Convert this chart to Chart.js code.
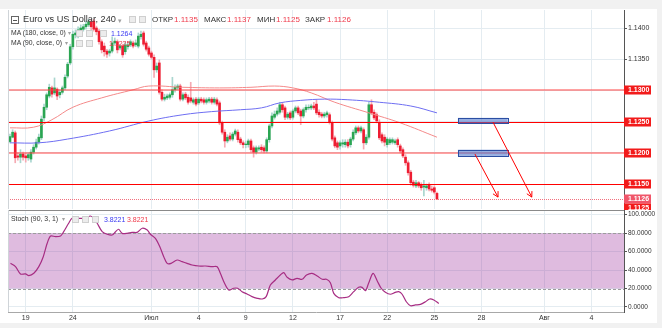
<!DOCTYPE html>
<html>
<head>
<meta charset="utf-8">
<script src="https://cdn.jsdelivr.net/npm/chart.js@4.4.1/dist/chart.umd.min.js"></script>
<style>
html, body { margin: 0; padding: 0; background: #f1f1f1; }
#wrap { position: relative; width: 662px; height: 328px; overflow: hidden; }
#panel { position: absolute; left: 0; top: 9px; width: 657px; height: 314px; background: #fff; }
canvas { position: absolute; left: 0; }
#main { top: 0; }
#stoch { top: 209px; }
.t { position: absolute; white-space: nowrap; line-height: 1; font-family: "Liberation Sans", Arial, sans-serif; color: #333; }
.ic { position: absolute; width: 7px; height: 7px; background: #ececec; border: 1px solid #cfcfcf; box-sizing: border-box; }
.dd { color: #a0a0a0; }
.up { color: #ef3a4b; }
.bl { color: #3a3af2; }
</style>
</head>
<body>
<div id="wrap">
  <div id="panel"></div>
  <canvas id="main" width="662" height="210"></canvas>
  <canvas id="stoch" width="662" height="119"></canvas>

  <div class="t" style="left:11px;top:16px;width:8px;height:8px;border:1px solid #666;box-sizing:border-box;"></div>
  <div class="t" style="left:13px;top:19.5px;width:4px;height:1px;background:#555;"></div>
  <div class="t" style="left:23px;top:15px;font-size:9.2px;">Euro vs US Dollar, 240</div>
  <div class="t dd" style="left:118px;top:17px;font-size:7px;">▾</div>
  <div class="ic" style="left:129px;top:16px;"></div>
  <div class="ic" style="left:139px;top:16px;"></div>
  <div class="t" style="left:152px;top:16px;font-size:8px;">ОТКР</div>
  <div class="t up" style="left:174px;top:16px;font-size:8px;">1.1135</div>
  <div class="t" style="left:204px;top:16px;font-size:8px;">МАКС</div>
  <div class="t up" style="left:227px;top:16px;font-size:8px;">1.1137</div>
  <div class="t" style="left:257px;top:16px;font-size:8px;">МИН</div>
  <div class="t up" style="left:276px;top:16px;font-size:8px;">1.1125</div>
  <div class="t" style="left:305px;top:16px;font-size:8px;">ЗАКР</div>
  <div class="t up" style="left:327px;top:16px;font-size:8px;">1.1126</div>

  <div class="t" style="left:11px;top:29.5px;font-size:6.8px;">MA (180, close, 0)</div>
  <div class="t dd" style="left:68px;top:30px;font-size:6px;">▾</div>
  <div class="ic" style="left:76px;top:29.5px;"></div>
  <div class="ic" style="left:86px;top:29.5px;"></div>
  <div class="ic" style="left:100px;top:29.5px;"></div>
  <div class="t bl" style="left:111px;top:29.5px;font-size:7px;">1.1264</div>

  <div class="t" style="left:11px;top:39.5px;font-size:6.8px;">MA (90, close, 0)</div>
  <div class="t dd" style="left:65px;top:40px;font-size:6px;">▾</div>
  <div class="ic" style="left:76px;top:39.5px;"></div>
  <div class="ic" style="left:86px;top:39.5px;"></div>
  <div class="t up" style="left:109px;top:39.5px;font-size:7px;">1.1225</div>

  <div class="t" style="left:11px;top:215.5px;font-size:6.9px;">Stoch (90, 3, 1)</div>
  <div class="t dd" style="left:62px;top:216px;font-size:6px;">▾</div>
  <div class="ic" style="left:72px;top:215.5px;"></div>
  <div class="ic" style="left:82px;top:215.5px;"></div>
  <div class="ic" style="left:92px;top:215.5px;"></div>
  <div class="t bl" style="left:104px;top:215.5px;font-size:7px;">3.8221</div>
  <div class="t up" style="left:127px;top:215.5px;font-size:7px;">3.8221</div>
</div>

<script>
// 4h bars, 18 Jun - 25 Jul
const opens = [
  1.1218, 1.1225, 1.1232, 1.1195, 1.1193, 1.1198, 1.1195, 1.1192, 1.1190, 1.1201,
  1.1209, 1.1217, 1.1224, 1.1256, 1.1273, 1.1291, 1.1304, 1.1296, 1.1302, 1.1293,
  1.1297, 1.1304, 1.1323, 1.1344, 1.1370, 1.1389, 1.1387, 1.1395, 1.1398, 1.1402,
  1.1405, 1.1410, 1.1411, 1.1400, 1.1395, 1.1378, 1.1371, 1.1363, 1.1360, 1.1363,
  1.1376, 1.1378, 1.1368, 1.1371, 1.1362, 1.1370, 1.1373, 1.1376, 1.1373, 1.1371,
  1.1386, 1.1392, 1.1376, 1.1368, 1.1360, 1.1353, 1.1333, 1.1344, 1.1297, 1.1286,
  1.1288, 1.1289, 1.1293, 1.1301, 1.1304, 1.1307, 1.1286, 1.1294, 1.1289, 1.1288,
  1.1281, 1.1286, 1.1280, 1.1286, 1.1285, 1.1281, 1.1283, 1.1286, 1.1281, 1.1285,
  1.1280, 1.1248, 1.1233, 1.1219, 1.1227, 1.1222, 1.1230, 1.1233, 1.1222, 1.1216,
  1.1213, 1.1213, 1.1219, 1.1208, 1.1201, 1.1206, 1.1209, 1.1208, 1.1203, 1.1221,
  1.1243, 1.1257, 1.1262, 1.1265, 1.1277, 1.1272, 1.1257, 1.1264, 1.1257, 1.1267,
  1.1272, 1.1267, 1.1259, 1.1269, 1.1272, 1.1272, 1.1275, 1.1278, 1.1265, 1.1262,
  1.1259, 1.1261, 1.1261, 1.1248, 1.1224, 1.1216, 1.1211, 1.1214, 1.1213, 1.1217,
  1.1213, 1.1222, 1.1232, 1.1240, 1.1235, 1.1237, 1.1216, 1.1225, 1.1277, 1.1265,
  1.1261, 1.1249, 1.1229, 1.1225, 1.1213, 1.1216, 1.1217, 1.1216, 1.1221, 1.1211,
  1.1205, 1.1193, 1.1184, 1.1169, 1.1153, 1.1147, 1.1152, 1.1148, 1.1145, 1.1144,
  1.1148, 1.1142, 1.1144, 1.1135
];
const highs = [
  1.1230, 1.1237, 1.1235, 1.1200, 1.1205, 1.1201, 1.1200, 1.1200, 1.1205, 1.1213,
  1.1222, 1.1230, 1.1259, 1.1278, 1.1296, 1.1310, 1.1307, 1.1320, 1.1304, 1.1301,
  1.1307, 1.1325, 1.1345, 1.1374, 1.1395, 1.1397, 1.1402, 1.1405, 1.1406, 1.1411,
  1.1414, 1.1414, 1.1414, 1.1403, 1.1398, 1.1381, 1.1376, 1.1366, 1.1366, 1.1386,
  1.1384, 1.1381, 1.1374, 1.1374, 1.1378, 1.1378, 1.1381, 1.1379, 1.1381, 1.1392,
  1.1395, 1.1395, 1.1379, 1.1371, 1.1363, 1.1357, 1.1344, 1.1349, 1.1301, 1.1294,
  1.1294, 1.1296, 1.1321, 1.1309, 1.1310, 1.1310, 1.1296, 1.1297, 1.1293, 1.1313,
  1.1288, 1.1289, 1.1289, 1.1289, 1.1288, 1.1288, 1.1289, 1.1289, 1.1289, 1.1288,
  1.1283, 1.1251, 1.1237, 1.1229, 1.1232, 1.1233, 1.1238, 1.1237, 1.1225, 1.1219,
  1.1219, 1.1222, 1.1222, 1.1211, 1.1211, 1.1211, 1.1213, 1.1211, 1.1224, 1.1246,
  1.1264, 1.1267, 1.1272, 1.1281, 1.1280, 1.1275, 1.1265, 1.1267, 1.1270, 1.1275,
  1.1275, 1.1270, 1.1272, 1.1277, 1.1277, 1.1278, 1.1281, 1.1285, 1.1269, 1.1265,
  1.1265, 1.1267, 1.1264, 1.1251, 1.1227, 1.1219, 1.1219, 1.1221, 1.1221, 1.1221,
  1.1225, 1.1237, 1.1243, 1.1243, 1.1243, 1.1240, 1.1229, 1.1281, 1.1285, 1.1269,
  1.1264, 1.1253, 1.1232, 1.1229, 1.1225, 1.1224, 1.1224, 1.1222, 1.1224, 1.1214,
  1.1208, 1.1197, 1.1187, 1.1172, 1.1156, 1.1156, 1.1154, 1.1152, 1.1156, 1.1150,
  1.1152, 1.1147, 1.1147, 1.1137
];
const lows = [
  1.1216, 1.1224, 1.1184, 1.1188, 1.1184, 1.1188, 1.1185, 1.1188, 1.1185, 1.1198,
  1.1206, 1.1214, 1.1221, 1.1251, 1.1269, 1.1288, 1.1289, 1.1293, 1.1285, 1.1288,
  1.1294, 1.1301, 1.1320, 1.1341, 1.1366, 1.1384, 1.1384, 1.1392, 1.1395, 1.1398,
  1.1402, 1.1397, 1.1395, 1.1389, 1.1374, 1.1360, 1.1355, 1.1353, 1.1355, 1.1360,
  1.1373, 1.1360, 1.1365, 1.1353, 1.1358, 1.1366, 1.1370, 1.1368, 1.1370, 1.1368,
  1.1382, 1.1371, 1.1363, 1.1355, 1.1350, 1.1321, 1.1329, 1.1294, 1.1283, 1.1283,
  1.1285, 1.1286, 1.1289, 1.1297, 1.1301, 1.1283, 1.1283, 1.1285, 1.1278, 1.1280,
  1.1278, 1.1275, 1.1277, 1.1280, 1.1278, 1.1278, 1.1280, 1.1278, 1.1278, 1.1275,
  1.1245, 1.1230, 1.1209, 1.1216, 1.1219, 1.1219, 1.1227, 1.1217, 1.1213, 1.1208,
  1.1208, 1.1209, 1.1201, 1.1193, 1.1198, 1.1203, 1.1201, 1.1200, 1.1200, 1.1217,
  1.1240, 1.1254, 1.1259, 1.1262, 1.1265, 1.1253, 1.1254, 1.1253, 1.1254, 1.1264,
  1.1261, 1.1245, 1.1256, 1.1265, 1.1269, 1.1269, 1.1269, 1.1261, 1.1257, 1.1256,
  1.1256, 1.1257, 1.1246, 1.1219, 1.1208, 1.1205, 1.1206, 1.1209, 1.1209, 1.1208,
  1.1209, 1.1219, 1.1229, 1.1232, 1.1232, 1.1206, 1.1213, 1.1222, 1.1261, 1.1253,
  1.1248, 1.1221, 1.1216, 1.1211, 1.1209, 1.1213, 1.1214, 1.1213, 1.1209, 1.1200,
  1.1192, 1.1180, 1.1164, 1.1148, 1.1145, 1.1144, 1.1144, 1.1140, 1.1131, 1.1140,
  1.1139, 1.1137, 1.1134, 1.1125
];
const closes = [
  1.1226, 1.1233, 1.1192, 1.1193, 1.1198, 1.1193, 1.1192, 1.1197, 1.1201, 1.1209,
  1.1217, 1.1225, 1.1254, 1.1273, 1.1293, 1.1305, 1.1294, 1.1304, 1.1291, 1.1297,
  1.1304, 1.1321, 1.1342, 1.1370, 1.1390, 1.1392, 1.1397, 1.1400, 1.1402, 1.1406,
  1.1410, 1.1402, 1.1398, 1.1394, 1.1378, 1.1365, 1.1362, 1.1358, 1.1363, 1.1376,
  1.1379, 1.1365, 1.1371, 1.1357, 1.1373, 1.1373, 1.1378, 1.1371, 1.1376, 1.1387,
  1.1390, 1.1374, 1.1366, 1.1358, 1.1353, 1.1333, 1.1339, 1.1297, 1.1286, 1.1289,
  1.1291, 1.1293, 1.1301, 1.1305, 1.1307, 1.1286, 1.1293, 1.1288, 1.1281, 1.1283,
  1.1285, 1.1278, 1.1286, 1.1283, 1.1281, 1.1285, 1.1286, 1.1281, 1.1286, 1.1278,
  1.1248, 1.1233, 1.1219, 1.1225, 1.1222, 1.1230, 1.1235, 1.1221, 1.1216, 1.1213,
  1.1214, 1.1219, 1.1205, 1.1201, 1.1208, 1.1208, 1.1205, 1.1203, 1.1221, 1.1243,
  1.1259, 1.1262, 1.1267, 1.1277, 1.1269, 1.1257, 1.1262, 1.1256, 1.1267, 1.1272,
  1.1264, 1.1259, 1.1269, 1.1273, 1.1273, 1.1275, 1.1272, 1.1264, 1.1261, 1.1259,
  1.1262, 1.1264, 1.1249, 1.1222, 1.1211, 1.1209, 1.1216, 1.1216, 1.1217, 1.1211,
  1.1222, 1.1233, 1.1240, 1.1235, 1.1240, 1.1216, 1.1225, 1.1277, 1.1264, 1.1256,
  1.1251, 1.1224, 1.1219, 1.1217, 1.1222, 1.1221, 1.1221, 1.1219, 1.1213, 1.1203,
  1.1195, 1.1184, 1.1168, 1.1152, 1.1148, 1.1152, 1.1147, 1.1144, 1.1147, 1.1147,
  1.1142, 1.1140, 1.1137, 1.1126
];

// moving averages, read at a few bar positions
const ma180Bars = [0, 11, 22, 38, 53, 66, 77, 88, 96, 103, 111, 120, 129, 141, 153, 163];
const ma180 = [1.1216, 1.1216, 1.1222, 1.1235, 1.1251, 1.1261, 1.1266, 1.1269, 1.1272, 1.1280, 1.1284, 1.1286, 1.1285, 1.1281, 1.1275, 1.1264];
const ma90Bars = [0, 9, 16, 24, 35, 47, 53, 66, 80, 92, 101, 108, 115, 124, 137, 149, 163];
const ma90 = [1.1240, 1.1241, 1.1253, 1.1273, 1.1288, 1.1301, 1.1307, 1.1305, 1.1304, 1.1305, 1.1307, 1.1304, 1.1296, 1.1281, 1.1264, 1.1248, 1.1225];

// stochastic %K
const stochBars = [0.2, 2.1, 4, 5.9, 7.2, 9.1, 11, 12.7, 14.2, 15.5, 17.4, 19.3, 20.5, 22.4, 23.7, 26.3, 28.8, 30.7, 32, 33.3,
  35.2, 37.1, 39, 40.3, 41.5, 42.8, 44.7, 46.6, 48.5, 50.5, 52.4, 53.6, 55.5, 57.2, 58.7, 60, 61.5, 63.8, 65.7, 67.6,
  69.5, 72.1, 74.6, 77.2, 79.1, 80.3, 81.9, 83.5, 85.4, 86.9, 88.6, 90.5, 92.4, 94.4, 96.3, 97.8, 99.4, 101.3, 103.2, 104.5,
  105.8, 107.7, 109.6, 111.5, 113.2, 115.3, 117.3, 119.2, 120.8, 122.3, 123.6, 125.5, 127.4, 129.3, 131.2, 133.1, 134.4, 135.7, 136.9, 138.6,
  140.2, 141.7, 143.3, 145.2, 147.1, 148.4, 149.7, 151.3, 152.9, 154.8, 156.7, 158.6, 160.2, 161.8, 163.7];
const stochK = [47.3, 43.7, 35.8, 35.8, 33.9, 36.5, 43.7, 54.5, 69.0, 76.9, 76.2, 76.9, 81.6, 90.7, 96.1, 96.1, 96.1, 98.6, 96.1, 90.7,
  81.6, 78.8, 78.0, 81.6, 84.2, 79.8, 79.8, 80.9, 80.9, 85.3, 83.4, 78.8, 74.4, 65.3, 54.5, 47.3, 47.3, 50.9, 49.1, 47.3,
  45.5, 44.4, 44.4, 43.7, 43.7, 36.5, 25.7, 18.4, 20.3, 20.3, 16.6, 14.1, 11.2, 9.4, 8.7, 11.2, 23.8, 29.3, 34.7, 37.2,
  32.2, 29.3, 31.1, 30.0, 34.7, 36.5, 33.6, 30.0, 30.0, 26.3, 14.8, 10.1, 10.1, 11.2, 16.6, 21.3, 21.3, 17.7, 25.7, 36.5,
  28.2, 20.3, 15.9, 13.8, 15.9, 16.6, 13.8, 5.7, 1.4, 2.2, 2.9, 5.7, 8.7, 7.6, 3.8];

// time axis
const dayBars = [6, 24, 54, 72, 90, 108, 126, 144, 162, 180, 204, 222];
const dayLabels = ['19', '24', 'Июл', '4', '9', '12', '17', '22', '25', '28', 'Авг', '4'];

// price scale, drawn levels and annotations
const priceTicks = [1.1150, 1.1200, 1.1250, 1.1300, 1.1350, 1.1400];
const levels = [1.1300, 1.1250, 1.1200, 1.1150];
const lastPrice = 1.1126;
const lowPrice = 1.1125;
const zoneBars = [[171, 190], [171, 190]];
const zonePrices = [[1.1256, 1.1248], [1.1205, 1.1195]];
const arrowBars = [[184.4, 199.2], [177.5, 186.3]];
const arrowPrices = [[1.1249, 1.1129], [1.1198, 1.1129]];
const stochTicks = [0, 20, 40, 60, 80, 100];
const stochBand = [20, 80];

const FONT = '"Liberation Sans", Arial, sans-serif';
const GRID = '#e4ecf1';
const UP = '#2aa552', DOWN = '#ee1d32';
const WICK_UP = '#a9d6cf', WICK_DOWN = '#f5aab3';
const X_MIN = -0.76, X_MAX = 234.4;

const bars = opens.map((_, i) => i);
const isUp = i => closes[i] >= opens[i];
// keep the axis from reserving room for half a label at each end
const noLabelPad = s => { s.width = 38; s.paddingTop = 0; s.paddingBottom = 0; };

const mainOverlay = {
  id: 'mainOverlay',
  afterDatasetsDraw(chart) {
    const { ctx, chartArea: a, scales: { x, y } } = chart;
    ctx.save();
    // horizontal levels: 1.1300 / 1.1200 soft (two rows), 1.1250 / 1.1150 crisp
    levels.forEach((v, k) => {
      const soft = k % 2 === 0;
      const py = soft ? Math.round(y.getPixelForValue(v)) : Math.round(y.getPixelForValue(v)) + 0.5;
      ctx.strokeStyle = soft ? '#f44' : '#f00';
      ctx.lineWidth = soft ? 1.2 : 1;
      ctx.beginPath(); ctx.moveTo(a.left, py); ctx.lineTo(a.right, py); ctx.stroke();
    });
    const lp = Math.round(y.getPixelForValue(lastPrice)) + 0.5;
    ctx.lineWidth = 1;
    ctx.strokeStyle = '#f2707e';
    ctx.setLineDash([1, 1]);
    ctx.beginPath(); ctx.moveTo(a.left, lp); ctx.lineTo(a.right, lp); ctx.stroke();
    ctx.setLineDash([]);
    // zones
    zoneBars.forEach((zb, k) => {
      const x0 = x.getPixelForValue(zb[0]), x1 = x.getPixelForValue(zb[1]);
      const y0 = y.getPixelForValue(zonePrices[k][0]), y1 = y.getPixelForValue(zonePrices[k][1]);
      ctx.fillStyle = 'rgba(80,120,205,0.6)';
      ctx.fillRect(x0, y0, x1 - x0, y1 - y0);
      ctx.strokeStyle = '#2b4ea3';
      ctx.strokeRect(Math.round(x0) + 0.5, Math.round(y0) + 0.5, Math.round(x1 - x0), Math.round(y1 - y0));
    });
    // arrows
    ctx.strokeStyle = '#f00';
    ctx.lineWidth = 1;
    arrowBars.forEach((ab, k) => {
      const x0 = x.getPixelForValue(ab[0]), y0 = y.getPixelForValue(arrowPrices[k][0]);
      const x1 = x.getPixelForValue(ab[1]), y1 = y.getPixelForValue(arrowPrices[k][1]);
      const ang = Math.atan2(y1 - y0, x1 - x0);
      ctx.beginPath(); ctx.moveTo(x0, y0); ctx.lineTo(x1, y1); ctx.stroke();
      ctx.beginPath();
      ctx.moveTo(x1 - 6 * Math.cos(ang - 0.5), y1 - 6 * Math.sin(ang - 0.5));
      ctx.lineTo(x1, y1);
      ctx.lineTo(x1 - 6 * Math.cos(ang + 0.5), y1 - 6 * Math.sin(ang + 0.5));
      ctx.stroke();
    });
    // left edge
    ctx.strokeStyle = '#cfd4d8';
    ctx.beginPath(); ctx.moveTo(a.left + 0.5, a.top); ctx.lineTo(a.left + 0.5, a.bottom); ctx.stroke();
    ctx.restore();
  },
  afterDraw(chart) {
    const { ctx, chartArea: a, scales: { y } } = chart;
    ctx.save();
    ctx.font = 'bold 7px ' + FONT;
    ctx.textBaseline = 'middle';
    const tag = (txt, py, color) => {
      ctx.fillStyle = color;
      ctx.fillRect(a.right, py - 4.5, 27, 9);
      ctx.fillStyle = '#fff';
      ctx.fillText(txt, a.right + 4, py + 0.5);
    };
    levels.forEach(v => tag(v.toFixed(4), Math.round(y.getPixelForValue(v)), '#f21b1b'));
    const lp = Math.round(y.getPixelForValue(lastPrice));
    tag(lastPrice.toFixed(4), lp, '#f0566a');
    tag(lowPrice.toFixed(4), lp + 9, '#f21b1b');
    ctx.restore();
  }
};

new Chart(document.getElementById('main'), {
  type: 'bar',
  data: {
    datasets: [
      {
        type: 'line', data: ma180Bars.map((b, k) => ({ x: b, y: ma180[k] })),
        borderColor: '#6e6ef2', borderWidth: 1, pointRadius: 0, tension: 0.4, order: 1
      },
      {
        type: 'line', data: ma90Bars.map((b, k) => ({ x: b, y: ma90[k] })),
        borderColor: '#f48a8a', borderWidth: 1, pointRadius: 0, tension: 0.4, order: 1
      },
      {
        data: bars.map(i => ({ x: i, y: [lows[i], highs[i]] })),
        backgroundColor: bars.map(i => isUp(i) ? WICK_UP : WICK_DOWN),
        barThickness: 1, grouped: false, order: 4
      },
      {
        data: bars.map(i => ({ x: i, y: [opens[i], closes[i]] })),
        backgroundColor: bars.map(i => isUp(i) ? UP : DOWN),
        barThickness: 2, grouped: false, order: 3
      }
    ]
  },
  options: {
    responsive: false,
    animation: false,
    events: [],
    layout: { padding: { left: 8, top: 10, right: 0, bottom: 1 } },
    plugins: { legend: { display: false }, tooltip: { enabled: false } },
    scales: {
      x: {
        type: 'linear', min: X_MIN, max: X_MAX, offset: false,
        afterBuildTicks: s => { s.ticks = dayBars.map(v => ({ value: v })); },
        afterFit: s => { s.height = 0; },
        ticks: { display: false },
        grid: { color: GRID, drawTicks: false, offset: false },
        border: { display: false }
      },
      y: {
        position: 'right', min: 1.110994, max: 1.142885,
        afterBuildTicks: s => { s.ticks = priceTicks.map(v => ({ value: v })); },
        afterFit: noLabelPad,
        ticks: {
          callback: v => levels.some(l => Math.abs(l - v) < 1e-6) ? '' : v.toFixed(4),
          color: '#333', font: { family: FONT, size: 7 }, padding: 1
        },
        grid: { color: GRID, tickColor: '#555', tickLength: 3 },
        border: { color: '#555' }
      }
    }
  },
  plugins: [mainOverlay]
});

const stochOverlay = {
  id: 'stochOverlay',
  beforeDatasetsDraw(chart) {
    const { ctx, chartArea: a, scales: { y } } = chart;
    const yTop = y.getPixelForValue(stochBand[1]), yBot = y.getPixelForValue(stochBand[0]);
    ctx.save();
    ctx.fillStyle = 'rgba(150,30,150,0.3)';
    ctx.fillRect(a.left, yTop, a.right - a.left, yBot - yTop);
    ctx.strokeStyle = '#9c9c9c';
    ctx.setLineDash([3, 2]);
    [yTop, yBot].forEach(py => {
      const p = Math.round(py) + 0.5;
      ctx.beginPath(); ctx.moveTo(a.left, p); ctx.lineTo(a.right, p); ctx.stroke();
    });
    ctx.setLineDash([]);
    ctx.strokeStyle = '#8a8a8a';
    ctx.beginPath(); ctx.moveTo(a.left, a.top + 0.5); ctx.lineTo(a.right, a.top + 0.5); ctx.stroke();
    ctx.strokeStyle = '#cfd4d8';
    ctx.beginPath(); ctx.moveTo(a.left + 0.5, a.top); ctx.lineTo(a.left + 0.5, a.bottom); ctx.stroke();
    ctx.restore();
  }
};

new Chart(document.getElementById('stoch'), {
  type: 'line',
  data: {
    datasets: [{
      data: stochBars.map((b, k) => ({ x: b, y: stochK[k] })),
      borderColor: '#a72d83', borderWidth: 1.2, pointRadius: 0, tension: 0.3, fill: false
    }]
  },
  options: {
    responsive: false,
    animation: false,
    events: [],
    layout: { padding: { left: 8, top: 1, right: 0, bottom: 2 } },
    plugins: { legend: { display: false }, tooltip: { enabled: false } },
    scales: {
      x: {
        type: 'linear', min: X_MIN, max: X_MAX, offset: false,
        afterBuildTicks: s => { s.ticks = dayBars.map(v => ({ value: v })); },
        afterFit: s => { s.height = 14; },
        ticks: {
          callback: (v, i) => dayLabels[i], autoSkip: false, maxRotation: 0,
          color: '#333', font: { family: FONT, size: 7 }, padding: 2
        },
        grid: { color: GRID, drawTicks: false },
        border: { color: '#a8a8a8' }
      },
      y: {
        position: 'right', min: -5.42, max: 105.09,
        afterBuildTicks: s => { s.ticks = stochTicks.map(v => ({ value: v })); },
        afterFit: noLabelPad,
        ticks: {
          callback: v => v.toFixed(4), color: '#333',
          font: { family: FONT, size: 6.5 }, padding: 1
        },
        grid: { color: GRID, tickColor: '#555', tickLength: 3 },
        border: { color: '#555' }
      }
    }
  },
  plugins: [stochOverlay]
});
</script>
</body>
</html>
